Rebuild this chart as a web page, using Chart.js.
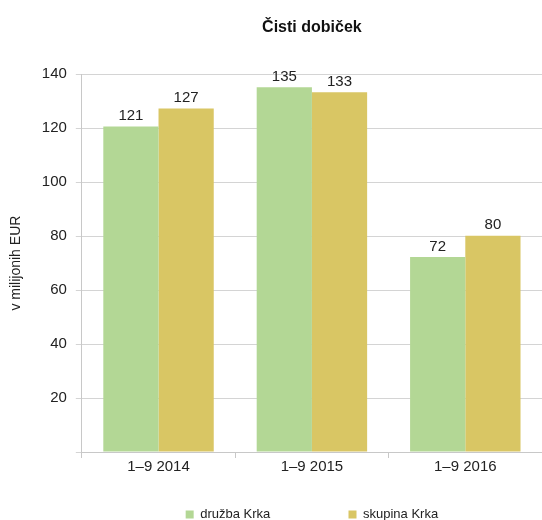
<!DOCTYPE html>
<html>
<head>
<meta charset="utf-8">
<script src="https://cdn.jsdelivr.net/npm/chart.js@4"></script>
<style>
  body { margin: 0; background: #fff; }
  #wrap { width: 542px; height: 520px; }
</style>
</head>
<body>
<div id="wrap"><canvas id="profitChart" width="542" height="520"></canvas></div>
<script>
// Values (EUR millions)
const periods = ['1–9 2014', '1–9 2015', '1–9 2016'];
const druzbaKrka = [120.6, 135.2, 72.3];
const skupinaKrka = [127.3, 133.3, 80.1];
const yTicks = [0, 20, 40, 60, 80, 100, 120, 140];

const FONT = "'Liberation Sans', Arial, sans-serif";

// draw the rounded value above each bar
const valueLabels = {
    id: 'valueLabels',
    afterDatasetsDraw(chart) {
        const ctx = chart.ctx;
        ctx.save();
        ctx.font = '15px ' + FONT;
        ctx.fillStyle = '#222';
        ctx.textAlign = 'center';
        ctx.textBaseline = 'bottom';
        chart.data.datasets.forEach((ds, i) => {
            chart.getDatasetMeta(i).data.forEach((bar, j) => {
                ctx.fillText(Math.round(ds.data[j]), bar.x, bar.y - 3);
            });
        });
        ctx.restore();
    }
};

new Chart(document.getElementById('profitChart'), {
    type: 'bar',
    data: {
        labels: periods,
        datasets: [
            {
                label: 'družba Krka',
                data: druzbaKrka,
                backgroundColor: 'rgb(179, 215, 149)',
                categoryPercentage: 0.72,
                barPercentage: 1
            },
            {
                label: 'skupina Krka',
                data: skupinaKrka,
                backgroundColor: 'rgb(217, 198, 100)',
                categoryPercentage: 0.72,
                barPercentage: 1
            }
        ]
    },
    options: {
        responsive: false,
        animation: false,
        layout: { padding: { left: 4, right: 0, top: 0, bottom: -11 } },
        plugins: {
            title: {
                display: true,
                text: 'Čisti dobiček',
                fullSize: false,
                color: '#111',
                font: { family: FONT, size: 16, weight: 'bold' },
                padding: { top: 18, bottom: 37 }
            },
            legend: {
                position: 'bottom',
                fullSize: false,
                labels: {
                    boxWidth: 8,
                    boxHeight: 8,
                    padding: 6,
                    color: '#222',
                    font: { family: FONT, size: 13 },
                    // widen the gap between the two items
                    generateLabels(chart) {
                        const items = Chart.defaults.plugins.legend.labels.generateLabels(chart);
                        chart.ctx.save();
                        chart.ctx.font = '13px ' + FONT;
                        const sp = chart.ctx.measureText(' ').width || 4;
                        chart.ctx.restore();
                        items[0].text += ' '.repeat(Math.round(74 / sp));
                        return items;
                    }
                }
            },
            tooltip: { enabled: false }
        },
        scales: {
            x: {
                grid: { drawOnChartArea: false, drawTicks: true, tickLength: 6, color: '#c8c8c8' },
                border: { color: '#c8c8c8' },
                ticks: { color: '#222', font: { family: FONT, size: 15 }, padding: 0 },
                afterFit: axis => { axis.height += 26; }
            },
            y: {
                min: 0,
                max: 140,
                afterBuildTicks: axis => { axis.ticks = yTicks.map(v => ({ value: v })); },
                grid: { color: '#d4d4d4', tickLength: 6 },
                border: { color: '#c8c8c8' },
                ticks: {
                    color: '#222',
                    font: { family: FONT, size: 15 },
                    padding: 9,
                    callback: v => v === 0 ? '' : v
                },
                title: {
                    display: true,
                    text: 'v milijonih EUR',
                    color: '#222',
                    font: { family: FONT, size: 14 },
                    padding: { bottom: 8 }
                }
            }
        }
    },
    plugins: [valueLabels]
});
</script>
</body>
</html>
